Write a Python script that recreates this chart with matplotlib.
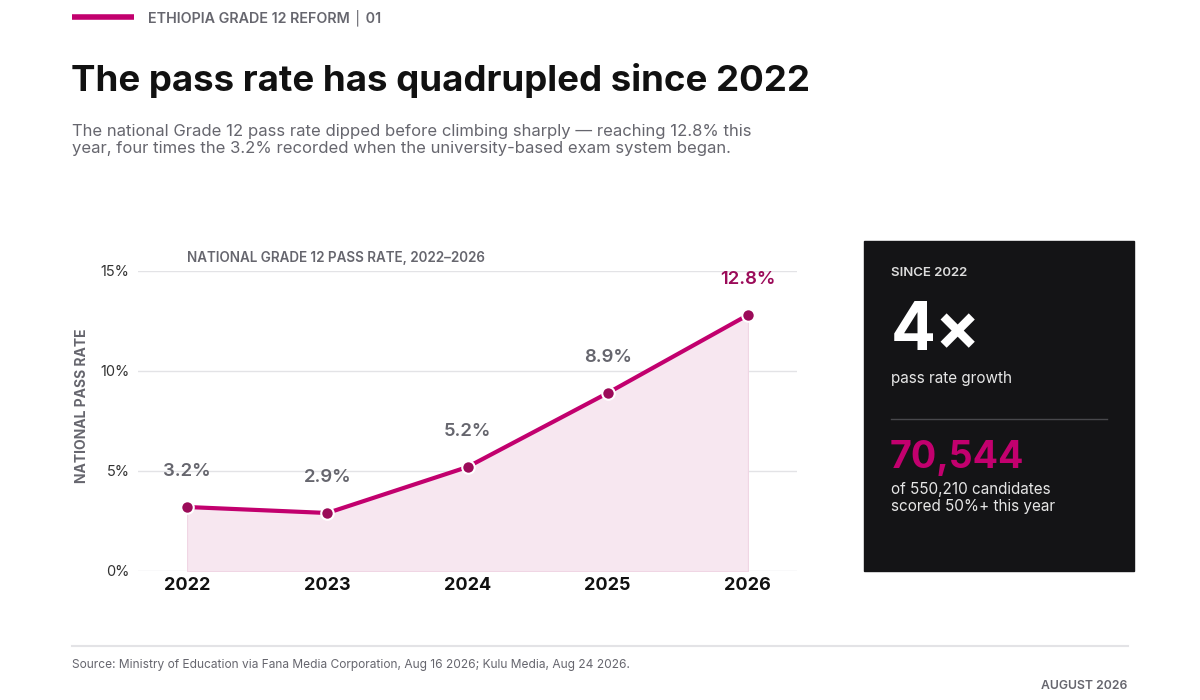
import matplotlib
matplotlib.use("Agg")
import matplotlib.pyplot as plt
from matplotlib.patches import Rectangle
from matplotlib.lines import Line2D

plt.rcParams['font.family'] = ['Inter', 'DejaVu Sans']

# data
years = ["2022", "2023", "2024", "2025", "2026"]
pass_rate = [3.2, 2.9, 5.2, 8.9, 12.8]
rate_labels = ["3.2%", "2.9%", "5.2%", "8.9%", "12.8%"]
y_ticks = [0, 5, 10, 15]
y_tick_labels = ["0%", "5%", "10%", "15%"]

MAGENTA = "#c2006e"
DARK_MAG = "#9b0b59"
GRAY = "#66666e"
W, H = 1200, 700


def fx(px):
    return px / W


def fy(py):
    return 1 - py / H


fig = plt.figure(figsize=(12, 7), dpi=100)
fig.patch.set_facecolor("white")

# header
fig.add_artist(Line2D([fx(72), fx(134)], [fy(17), fy(17)], color=MAGENTA, lw=4, solid_capstyle="butt"))
fig.text(fx(148), fy(18), "ETHIOPIA GRADE 12 REFORM │ 01", fontsize=10.3, fontweight="semibold",
         color=GRAY, va="center")
fig.text(fx(71), fy(81), "The pass rate has quadrupled since 2022", fontsize=26.4, fontweight="bold",
         color="#111111", va="center")
fig.text(fx(72), fy(140), "The national Grade 12 pass rate dipped before climbing sharply \u2014 reaching 12.8% this\n"
         "year, four times the 3.2% recorded when the university-based exam system began.",
         fontsize=12, color=GRAY, va="center", linespacing=1.15)

# main chart
ax = fig.add_axes([fx(138), fy(571), fx(797) - fx(138), fy(271) - fy(571)])
x = list(range(len(years)))
ax.fill_between(x, pass_rate, 0, color="#f7e7f0", edgecolor="#f0d6e4", lw=0.8, zorder=1)
ax.plot(x, pass_rate, color=MAGENTA, lw=3, zorder=3)
ax.plot(x, pass_rate, "o", ms=9, color=DARK_MAG, mec="white", mew=1.5, zorder=4, clip_on=False)
for i, (v, lab) in enumerate(zip(pass_rate, rate_labels)):
    last = i == len(pass_rate) - 1
    ax.annotate(lab, (i, v), xytext=(0, 35), textcoords="offset pixels", ha="center", va="center",
                fontsize=13.3, fontweight="semibold", color=DARK_MAG if last else GRAY)

ax.set_xlim(-0.35, 4.35)
ax.set_ylim(0, 15)
ax.set_yticks(y_ticks)
ax.set_yticklabels(y_tick_labels, fontsize=10.5, color="#333333")
ax.set_xticks(x)
ax.set_xticklabels(years, fontsize=13, fontweight="bold", color="#111111")
ax.tick_params(axis="both", length=0)
ax.tick_params(axis="y", pad=6)
ax.tick_params(axis="x", pad=4)
ax.grid(axis="y", color="#e3e3e6", lw=1)
ax.set_axisbelow(True)
for s in ax.spines.values():
    s.set_visible(False)

fig.text(fx(82), fy(406), "NATIONAL PASS RATE", fontsize=10, fontweight="bold", color=GRAY,
         rotation=90, ha="center", va="center")
fig.text(fx(187), fy(258), "NATIONAL GRADE 12 PASS RATE, 2022\u20132026", fontsize=9.7,
         fontweight="semibold", color=GRAY, va="center")

# dark stat panel
fig.add_artist(Rectangle((fx(864), fy(571)), fx(1134) - fx(864), fy(241) - fy(571),
                         transform=fig.transFigure, color="#141416", zorder=0))
fig.text(fx(891), fy(273), "SINCE 2022", fontsize=9.5, fontweight="semibold", color="#dddddd", va="center")
fig.text(fx(891), fy(332), "4\u00d7", fontsize=48, fontweight="bold", color="white", va="center")
fig.text(fx(891), fy(378), "pass rate growth", fontsize=11, color="#e6e6e6", va="center")
fig.add_artist(Line2D([fx(891), fx(1107)], [fy(419), fy(419)], color="#48484c", lw=1))
fig.text(fx(890), fy(458), "70,544", fontsize=27, fontweight="bold", color=MAGENTA, va="center")
fig.text(fx(891), fy(498), "of 550,210 candidates\nscored 50%+ this year", fontsize=11, color="#e6e6e6",
         va="center", linespacing=1.1)

# footer
fig.add_artist(Line2D([fx(72), fx(1128)], [fy(646), fy(646)], color="#e3e3e6", lw=1.5))
fig.text(fx(72), fy(665), "Source: Ministry of Education via Fana Media Corporation, Aug 16 2026; Kulu Media, Aug 24 2026.",
         fontsize=8.6, color=GRAY, va="center")
fig.text(fx(1127), fy(686), "AUGUST 2026", fontsize=8.8, fontweight="semibold", color=GRAY, va="center", ha="right")

fig.savefig("out.png", dpi=100)
